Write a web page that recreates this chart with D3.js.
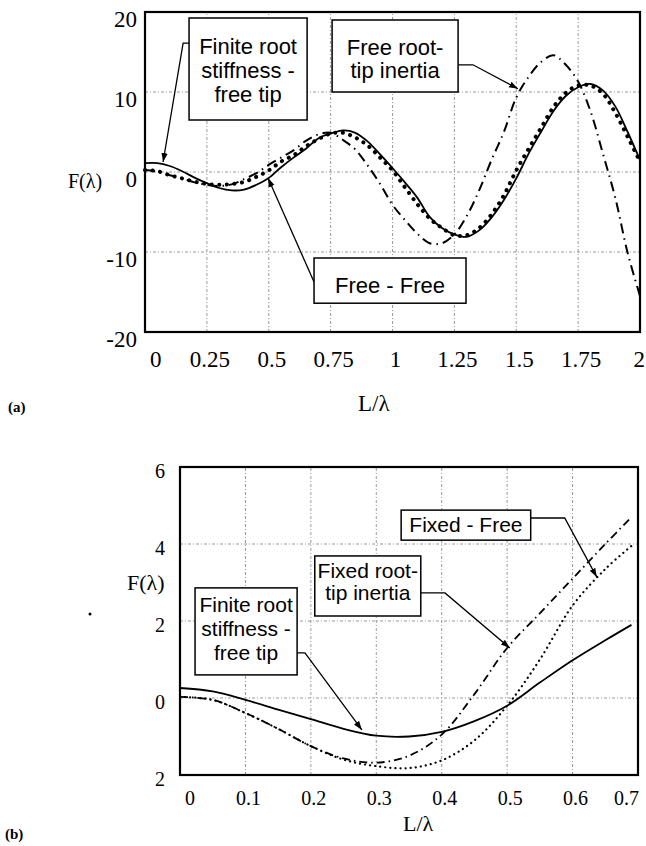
<!DOCTYPE html>
<html>
<head>
<meta charset="utf-8">
<script src="https://cdn.jsdelivr.net/npm/d3@7"></script>
<style>
body { margin: 0; background: #fff; }
svg { display: block; }
</style>
</head>
<body>
<div id="chart"></div>
<script>
// ---- panel (a) ----
const xsA = [0, 0.05, 0.1, 0.15, 0.2, 0.25, 0.3, 0.35, 0.4, 0.45, 0.5, 0.55, 0.6, 0.65, 0.7, 0.75, 0.8, 0.85, 0.9, 0.95,
    1, 1.05, 1.1, 1.15, 1.2, 1.25, 1.3, 1.35, 1.4, 1.45, 1.5, 1.55, 1.6, 1.65, 1.7, 1.75, 1.8, 1.85, 1.9, 1.95, 2];
const finiteRootA = [1.1, 1.1, 0.75, 0.1, -0.7, -1.4, -2.0, -2.3, -2.2, -1.6, -0.75, 0.6, 1.8, 2.9, 4.2, 4.8, 5.2, 4.9, 3.8, 2.2,
    0.5, -1.3, -3.2, -5.6, -7.0, -7.8, -8.1, -7.3, -5.7, -3.5, -0.8, 2.3, 5.0, 7.6, 9.5, 10.6, 11.0, 10.2, 8.2, 5.0, 1.5];
const freeFreeA = [0.25, 0.1, -0.4, -0.8, -1.2, -1.5, -1.6, -1.5, -1.25, -0.6, 0.2, 1.3, 2.1, 3.2, 4.1, 4.8, 4.9, 4.3, 3.3, 1.8,
    0.2, -1.9, -4.0, -5.8, -7.0, -7.9, -7.9, -7.0, -5.3, -2.9, 0.2, 2.9, 5.5, 8.1, 9.9, 10.8, 10.8, 9.8, 7.4, 4.4, 1.3];
const freeInertiaA = [0.25, 0.05, -0.4, -0.8, -1.3, -1.6, -1.75, -1.55, -0.9, -0.15, 0.9, 1.8, 2.7, 3.9, 4.7, 4.9, 4.0, 2.8, 0.8, -1.5,
    -4.1, -6.0, -7.7, -8.9, -8.9, -7.8, -5.5, -2.3, 1.5, 5.0, 9.3, 11.9, 13.75, 14.6, 13.4, 11.3, 7.6, 2.3, -3.2, -10.1, -15.5];
const xTicksA = [0, 0.25, 0.5, 0.75, 1, 1.25, 1.5, 1.75, 2];
const yTicksA = [20, 10, 0, -10, -20];

// ---- panel (b) ----
const xsB = [0, 0.05, 0.1, 0.15, 0.2, 0.25, 0.3, 0.35, 0.4, 0.45, 0.5, 0.55, 0.6, 0.65, 0.69];
const finiteRootB = [0.26, 0.17, -0.05, -0.3, -0.55, -0.8, -0.98, -1.0, -0.88, -0.6, -0.2, 0.4, 0.98, 1.5, 1.9];
const fixedInertiaB = [0.03, -0.05, -0.39, -0.8, -1.25, -1.57, -1.68, -1.5, -0.95, 0.1, 1.3, 2.2, 3.1, 4.0, 4.7];
const fixedFreeB = [0.03, -0.05, -0.39, -0.8, -1.25, -1.6, -1.77, -1.82, -1.62, -1.1, -0.2, 1.0, 2.4, 3.35, 3.95];
const xTicksB = [0, 0.1, 0.2, 0.3, 0.4, 0.5, 0.6, 0.7];
const yTicksB = [-2, 0, 2, 4, 6];
const yTickLabelsB = ['2', '0', '2', '4', '6'];

const W = 646, H = 846;
const serif = "'Liberation Serif', 'Times New Roman', serif";
const sans = "'Liberation Sans', Arial, sans-serif";

let svg = d3.select('#chart').append('svg')
    .attr('width', W)
    .attr('height', H);

svg.append('defs').append('marker')
    .attr('id', 'arrow')
    .attr('viewBox', '0 0 10 10')
    .attr('refX', 10).attr('refY', 5)
    .attr('markerUnits', 'userSpaceOnUse')
    .attr('markerWidth', 9).attr('markerHeight', 9)
    .attr('orient', 'auto')
    .append('path')
    .attr('d', 'M0,1.5 L10,5 L0,8.5 z')
    .attr('fill', '#000');

const styles = {
    solid: {dash: null, width: 1.8, cap: 'butt'},
    dotA: {dash: '0.1,7.5', width: 4, cap: 'round'},
    dashdotA: {dash: '10,5,1.5,5', width: 2, cap: 'butt'},
    dotB: {dash: '0.1,5', width: 2.2, cap: 'round'},
    dashdotB: {dash: '8,4,1.5,4', width: 1.8, cap: 'butt'}
};

function drawPanel(cfg) {
    let x = d3.scaleLinear().domain(cfg.xDomain).range(cfg.xRange);
    let y = d3.scaleLinear().domain(cfg.yDomain).range(cfg.yRange);
    let g = svg.append('g');
    let [x0, x1] = cfg.xRange;
    let [yb, yt] = cfg.yRange;
    let last = cfg.xTicks.length - 1;

    // grid
    let grid = g.append('g')
        .attr('stroke', '#999')
        .attr('stroke-width', 1)
        .attr('stroke-dasharray', '3,2,1,2');
    grid.selectAll('line.v')
        .data(cfg.xTicks.slice(1, -1))
        .enter().append('line')
        .attr('x1', d => x(d)).attr('x2', d => x(d))
        .attr('y1', yb).attr('y2', yt);
    grid.selectAll('line.h')
        .data(cfg.yTicks.slice(1, -1))
        .enter().append('line')
        .attr('x1', x0).attr('x2', x1)
        .attr('y1', d => y(d)).attr('y2', d => y(d));

    // curves
    let line = d3.line()
        .x((d, i) => x(cfg.xs[i]))
        .y(d => y(d))
        .curve(d3.curveCatmullRom.alpha(0.5));
    cfg.series.forEach(s => {
        let st = styles[s.style];
        g.append('path')
            .attr('d', line(s.values))
            .attr('fill', 'none')
            .attr('stroke', '#000')
            .attr('stroke-width', st.width)
            .attr('stroke-linecap', st.cap)
            .attr('stroke-dasharray', st.dash);
    });

    // frame
    g.append('rect')
        .attr('x', x0).attr('y', yt)
        .attr('width', x1 - x0).attr('height', yb - yt)
        .attr('fill', 'none')
        .attr('stroke', '#000')
        .attr('stroke-width', 2.2);

    // tick labels
    g.append('g').selectAll('text')
        .data(cfg.xTicks)
        .enter().append('text')
        .attr('x', (d, i) => i === 0 ? x(d) + 5 : (i === last ? x(d) + cfg.lastDx : x(d) + 3))
        .attr('y', yb + cfg.xLabelGap)
        .attr('text-anchor', (d, i) => i === 0 ? 'start' : (i === last ? 'end' : 'middle'))
        .style('font-family', serif)
        .style('font-size', cfg.tickSize + 'px')
        .text(d => d3.format('~g')(d));
    g.append('g').selectAll('text')
        .data(cfg.yTicks)
        .enter().append('text')
        .attr('x', cfg.yLabelX)
        .attr('y', d => y(d) + cfg.yLabelDy)
        .attr('text-anchor', 'end')
        .style('font-family', serif)
        .style('font-size', cfg.tickSize + 'px')
        .text((d, i) => cfg.yLabels[i]);

    // axis titles
    g.append('text')
        .attr('x', cfg.yTitle[0]).attr('y', cfg.yTitle[1])
        .style('font-family', serif)
        .style('font-size', cfg.yTitle[2] + 'px')
        .text('F(λ)');
    g.append('text')
        .attr('x', cfg.xTitle[0]).attr('y', cfg.xTitle[1])
        .style('font-family', serif)
        .style('font-size', cfg.xTitle[2] + 'px')
        .text('L/λ');
    g.append('text')
        .attr('x', cfg.tag[0]).attr('y', cfg.tag[1])
        .style('font-family', serif)
        .style('font-weight', 'bold')
        .style('font-size', '15px')
        .text(cfg.tag[2]);

    // annotations: box and arrow in data units
    cfg.notes.forEach(n => {
        let a = g.append('g');
        a.append('polyline')
            .attr('points', n.arrow.map(p => x(p[0]) + ',' + y(p[1])).join(' '))
            .attr('fill', 'none')
            .attr('stroke', '#000')
            .attr('stroke-width', 1.3)
            .attr('marker-end', 'url(#arrow)');
        let bx = x(n.box[0]), by = y(n.box[2]);
        let bw = x(n.box[1]) - bx, bh = y(n.box[3]) - by;
        a.append('rect')
            .attr('x', bx).attr('y', by)
            .attr('width', bw).attr('height', bh)
            .attr('fill', '#fff')
            .attr('stroke', '#000')
            .attr('stroke-width', 1.5);
        a.selectAll('text')
            .data(n.lines)
            .enter().append('text')
            .attr('x', bx + bw / 2)
            .attr('y', (d, i) => by + n.first + i * n.step)
            .attr('text-anchor', 'middle')
            .style('font-family', sans)
            .style('font-size', cfg.noteSize + 'px')
            .text(d => d);
    });
}

drawPanel({
    xs: xsA,
    xDomain: [0, 2], xRange: [145, 640],
    yDomain: [-20, 20], yRange: [332, 12],
    xTicks: xTicksA, yTicks: yTicksA,
    yLabels: yTicksA.map(d => d < 0 ? '-' + Math.abs(d) : String(d)),
    tickSize: 23, xLabelGap: 35, yLabelX: 137, yLabelDy: 15, lastDx: 5,
    yTitle: [68, 188, 20], xTitle: [358, 411, 23], tag: [8, 412, '(a)'],
    noteSize: 22,
    series: [
        {values: finiteRootA, style: 'solid'},
        {values: freeFreeA, style: 'dotA'},
        {values: freeInertiaA, style: 'dashdotA'}
    ],
    notes: [
        {lines: ['Finite root', 'stiffness -', 'free tip'], box: [0.178, 0.655, 19.25, 6.5], first: 36, step: 24,
            arrow: [[0.178, 16.1], [0.154, 16.1], [0.073, 1.25]]},
        {lines: ['Free root-', 'tip inertia'], box: [0.756, 1.265, 19.0, 10.0], first: 35, step: 23,
            arrow: [[1.265, 13.4], [1.325, 13.4], [1.507, 10.4]]},
        {lines: ['Free - Free'], box: [0.683, 1.297, -10.75, -16.4], first: 35, step: 24,
            arrow: [[0.683, -13.75], [0.497, -0.75]]}
    ]
});

drawPanel({
    xs: xsB,
    xDomain: [0, 0.7], xRange: [180, 638],
    yDomain: [-2, 6], yRange: [775, 467],
    xTicks: xTicksB, yTicks: yTicksB,
    yLabels: yTickLabelsB,
    tickSize: 20, xLabelGap: 30, yLabelX: 165, yLabelDy: 11, lastDx: 1,
    yTitle: [127, 590, 22], xTitle: [403, 831, 22], tag: [5, 839, '(b)'],
    noteSize: 21,
    series: [
        {values: finiteRootB, style: 'solid'},
        {values: fixedFreeB, style: 'dotB'},
        {values: fixedInertiaB, style: 'dashdotB'}
    ],
    notes: [
        {lines: ['Fixed - Free'], box: [0.338, 0.536, 4.88, 4.10], first: 22, step: 22,
            arrow: [[0.536, 4.675], [0.588, 4.675], [0.637, 3.14]]},
        {lines: ['Fixed root-', 'tip inertia'], box: [0.206, 0.368, 3.69, 2.13], first: 22, step: 22,
            arrow: [[0.368, 2.73], [0.405, 2.73], [0.504, 1.3]]},
        {lines: ['Finite root', 'stiffness -', 'free tip'], box: [0.023, 0.179, 2.86, 0.6], first: 24, step: 24,
            arrow: [[0.179, 1.17], [0.191, 1.17], [0.278, -0.83]]}
    ]
});

// stray mark in the scan
svg.append('circle').attr('cx', 90).attr('cy', 614).attr('r', 1.5).attr('fill', '#000');
</script>
</body>
</html>
